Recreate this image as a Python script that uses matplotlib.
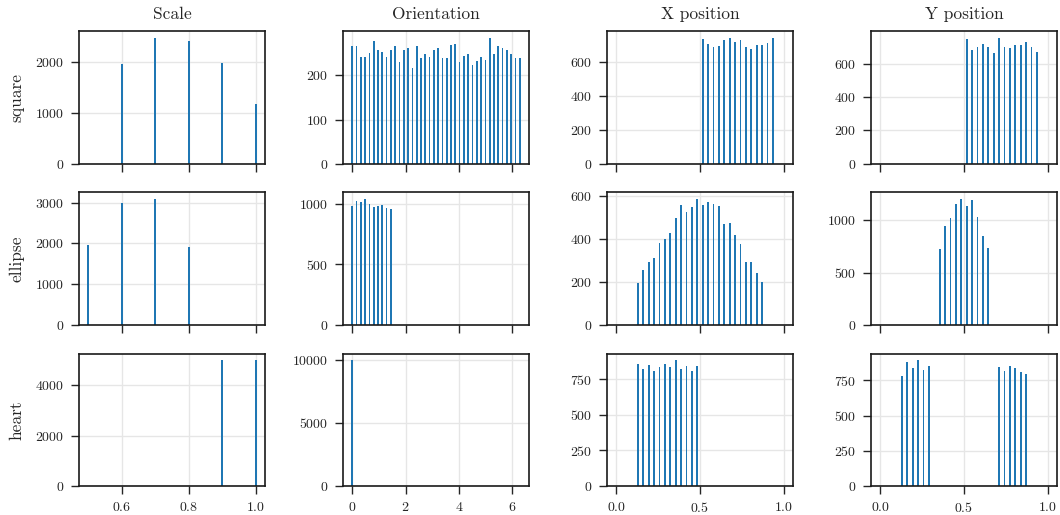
import matplotlib.pyplot as plt
import numpy as np
from matplotlib.ticker import MaxNLocator

plt.rcParams['font.family'] = 'cmr10'
plt.rcParams['mathtext.fontset'] = 'cm'
plt.rcParams['axes.formatter.use_mathtext'] = True

shapes = ['square', 'ellipse', 'heart']
factors = ['Scale', 'Orientation', 'X position', 'Y position']

# discrete latent values of each factor
scale_vals = [0.5, 0.6, 0.7, 0.8, 0.9, 1.0]
orient_vals = np.linspace(0, 2 * np.pi, 40)
pos_vals = np.linspace(0, 1, 32)

# counts per latent value
square_scale = [0, 1967, 2477, 2418, 1987, 1183]
ellipse_scale = [1967, 3000, 3098, 1918, 0, 0]
heart_scale = [0, 0, 0, 0, 5000, 5020]

square_orient = [265, 267, 241, 241, 250, 278, 258, 253, 242, 256,
                 267, 231, 258, 262, 217, 265, 240, 249, 242, 256,
                 262, 238, 238, 269, 271, 229, 244, 249, 224, 233,
                 242, 235, 285, 247, 267, 262, 256, 247, 240, 238]
ellipse_orient = [986, 1028, 1019, 1044, 1003, 978, 986, 994, 970, 961] + [0] * 30
heart_orient = [10010] + [0] * 39

square_x = [0] * 16 + [734, 710, 687, 698, 728, 740, 722, 728, 692, 675,
                       704, 704, 716, 745] + [0] * 2
ellipse_x = [0] * 4 + [195, 256, 293, 312, 381, 400, 428, 498, 558, 526,
                       549, 586, 558, 572, 563, 553, 470, 474, 417, 377,
                       293, 293, 242, 200] + [0] * 4
heart_x = [0] * 4 + [858, 823, 851, 808, 836, 858, 836, 886, 823, 844,
                     808, 844] + [0] * 16

square_y = [0] * 16 + [752, 686, 704, 722, 704, 668, 758, 704, 698, 716,
                       716, 734, 704, 674] + [0] * 2
ellipse_y = [0] * 11 + [723, 946, 1022, 1160, 1208, 1141, 1198, 1035,
                        853, 738] + [0] * 11
heart_y = [0] * 4 + [783, 883, 840, 897, 826, 855] + [0] * 12 + \
          [848, 819, 855, 840, 812, 798] + [0] * 4

counts = [
    [square_scale, square_orient, square_x, square_y],
    [ellipse_scale, ellipse_orient, ellipse_x, ellipse_y],
    [heart_scale, heart_orient, heart_x, heart_y],
]
grids = [scale_vals, orient_vals, pos_vals, pos_vals]
widths = [0.005, 2 * np.pi / 100, 0.01, 0.01]

fig, axes = plt.subplots(3, 4, sharex='col', figsize=(10.6, 5.15), dpi=100)
fig.subplots_adjust(left=79 / 1060, right=1057 / 1060,
                    top=1 - 31.3 / 515, bottom=1 - 486 / 515,
                    wspace=0.419, hspace=0.216)

nice = [1, 2, 2.5, 5, 10]
for i, shape in enumerate(shapes):
    for j, factor in enumerate(factors):
        ax = axes[i, j]
        ax.bar(grids[j], counts[i][j], width=widths[j], color='#1f77b4',
               linewidth=0)
        ax.grid(True, color='#e6e6e6', linewidth=1.0)
        ax.set_axisbelow(True)
        ax.yaxis.set_major_locator(MaxNLocator(4, steps=nice))
        ax.xaxis.set_major_locator(MaxNLocator(4, steps=nice))
        ax.tick_params(direction='out', length=5.5, width=1.0, pad=5,
                       labelsize=10, colors='.15')
        for sp in ax.spines.values():
            sp.set_linewidth(1.2)
            sp.set_color('.1')
        if i == 0:
            ax.set_title(factor, fontsize=12.5, pad=9, color='.15')
        if j == 0:
            ax.set_ylabel(shape, fontsize=12.5, labelpad=8, color='.15')

fig.align_ylabels(axes[:, 0])
plt.savefig('out.png')
